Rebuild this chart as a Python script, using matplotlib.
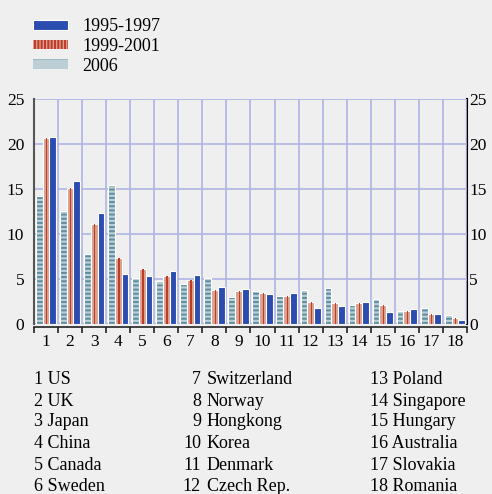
import numpy as np
import matplotlib
matplotlib.use('Agg')
import matplotlib.pyplot as plt
from matplotlib.patches import Patch

plt.rcParams['font.family'] = ['Liberation Serif', 'DejaVu Serif']
plt.rcParams['hatch.linewidth'] = 1.4

countries = ['US', 'UK', 'Japan', 'China', 'Canada', 'Sweden',
             'Switzerland', 'Norway', 'Hongkong', 'Korea', 'Denmark', 'Czech Rep.',
             'Poland', 'Singapore', 'Hungary', 'Australia', 'Slovakia', 'Romania']
labels = [str(i) for i in range(1, 19)]

v_2006 = [14.2, 12.5, 7.8, 15.4, 5.1, 4.8, 4.4, 5.1, 3.0,
          3.7, 3.1, 3.8, 4.0, 2.1, 2.8, 1.5, 1.8, 1.0]
v_1999 = [20.7, 15.1, 11.1, 7.3, 6.1, 5.3, 4.9, 3.8, 3.7,
          3.5, 3.1, 2.4, 2.3, 2.3, 2.1, 1.5, 1.1, 0.7]
v_1995 = [20.8, 15.9, 12.3, 5.6, 5.3, 5.9, 5.5, 4.1, 3.9,
          3.3, 3.5, 1.8, 2.0, 2.5, 1.3, 1.7, 1.1, 0.5]

bg = '#efefef'
blue = '#2c4db0'
salmon = '#d9a08c'
red = '#c0392b'
light = '#bccfd6'
teal = '#5b8e9e'
grid = '#b0b4e4'

fig = plt.figure(figsize=(4.92, 4.94), dpi=100, facecolor=bg)
ax = fig.add_axes([34 / 492, 1 - 324 / 494, 433 / 492, 225 / 494], facecolor=bg)

x = np.arange(len(labels))
w = 0.28

# 2006
ax.bar(x - w, v_2006, w, color=light, hatch='----', edgecolor=teal, linewidth=0, zorder=3)
ax.bar(x - w, v_2006, w, fill=False, edgecolor='white', linewidth=0.8, zorder=4)
# 1999-2001
ax.bar(x, v_1999, w, color=salmon, edgecolor='white', linewidth=0.8, zorder=3)
ax.bar(x + 0.03, v_1999, 0.05, color=red, linewidth=0, zorder=4)
# 1995-1997
ax.bar(x + w, v_1995, w, color=blue, edgecolor='white', linewidth=0.8, zorder=3)

yticks = [0, 5, 10, 15, 20, 25]
ax.set_xlim(-0.5, 17.5)
ax.set_ylim(0, 25)
ax.set_yticks(yticks)
ax.set_xticks(x)
ax.set_xticklabels(labels)
ax.set_xticks(np.arange(-0.5, 18, 1), minor=True)

ax.grid(True, which='major', axis='y', color=grid, linewidth=1.2, zorder=0)
ax.grid(True, which='minor', axis='x', color=grid, linewidth=1.2, zorder=0)
ax.set_axisbelow(True)

ax.tick_params(axis='y', which='both', left=False, right=False,
               labelleft=True, labelright=False, labelsize=12.5, pad=3.5)
ax.tick_params(axis='x', which='major', length=0, labelsize=12.5, pad=5)
ax.tick_params(axis='x', which='minor', length=4, width=1.2, color='#222', direction='out')

# right-hand scale
sec = ax.secondary_yaxis('right')
sec.set_yticks(yticks)
sec.tick_params(length=0, pad=1.5, labelsize=12.5)
sec.spines['right'].set_color('black')
sec.spines['right'].set_linewidth(1.5)

ax.spines['top'].set_visible(False)
ax.spines['right'].set_visible(False)
ax.spines['left'].set_color('#555')
ax.spines['left'].set_linewidth(1.5)
ax.spines['bottom'].set_color('#222')
ax.spines['bottom'].set_linewidth(1.2)
ax.spines['bottom'].set_position(('outward', 2))

handles = [
    Patch(facecolor=blue, edgecolor='white', linewidth=0.8),
    Patch(facecolor=salmon, edgecolor=red, hatch='|||||', linewidth=0),
    Patch(facecolor=light, edgecolor=teal, hatch='-', linewidth=0),
]
fig.legend(handles, ['1995-1997', '1999-2001', '2006'], loc='upper left',
           bbox_to_anchor=(17 / 492, 1 - 2 / 494), frameon=False, fontsize=13,
           handlelength=1.9, handleheight=0.45, labelspacing=0.15, handletextpad=0.8)

# country key in three columns
rows = [379, 401, 422, 443, 465, 486]
for i, name in enumerate(countries):
    col, r = divmod(i, 6)
    y = 1 - rows[r] / 494
    if col == 0:
        fig.text(34 / 492, y, f'{i + 1} {name}', fontsize=13, va='center')
    elif col == 1:
        fig.text(201 / 492, y, str(i + 1), fontsize=13, va='center', ha='right')
        fig.text(207 / 492, y, name, fontsize=13, va='center')
    else:
        fig.text(370 / 492, y, f'{i + 1} {name}', fontsize=13, va='center')

fig.savefig('out.png', dpi=100, facecolor=bg)
